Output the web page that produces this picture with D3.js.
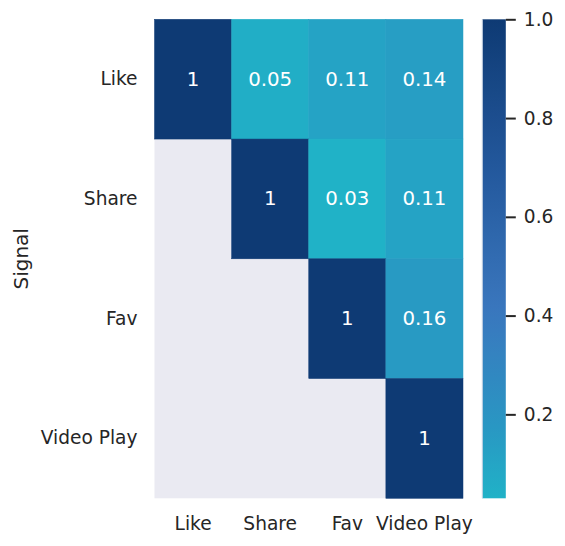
<!DOCTYPE html>
<html>
<head>
<meta charset="utf-8">
<script src="https://cdn.jsdelivr.net/npm/d3@7"></script>
<style>
  body { margin: 0; background: #fff; }
  text { font-family: "DejaVu Sans", sans-serif; }
</style>
</head>
<body>
<div id="wrapper"></div>
<script>
// data
const signals = ["Like", "Share", "Fav", "Video Play"];
// upper triangle of the correlation matrix, null = masked
const likeRow = [1, 0.05, 0.11, 0.14];
const shareRow = [null, 1, 0.03, 0.11];
const favRow = [null, null, 1, 0.16];
const videoRow = [null, null, null, 1];
const colorbarTicks = [0.2, 0.4, 0.6, 0.8, 1.0];

const rows = [likeRow, shareRow, favRow, videoRow];

async function drawHeatmap() {
  //1. dimensions
  let dimensions = {
    width: 565,
    height: 546,
    margin: { top: 19.3, left: 154.5 },
    boundedWidth: 308.5,
    boundedHeight: 479,
  };

  const cells = [];
  rows.forEach((r, i) => r.forEach((v, j) => cells.push({ row: signals[i], col: signals[j], value: v })));

  const vmin = d3.min(cells, (d) => d.value);
  const vmax = d3.max(cells, (d) => d.value);

  //2. canvas
  const wrapper = d3.select("#wrapper")
    .append("svg")
    .attr("width", dimensions.width)
    .attr("height", dimensions.height);

  const bounds = wrapper.append("g")
    .attr("transform", `translate(${dimensions.margin.left},${dimensions.margin.top})`);

  //3. scales
  const xScale = d3.scaleBand().domain(signals).range([0, dimensions.boundedWidth]);
  const yScale = d3.scaleBand().domain(signals).range([0, dimensions.boundedHeight]);

  const colorScale = d3.scaleLinear()
    .domain([vmin, 0.2, 0.41, 0.7, vmax])
    .range(["#20b2c7", "#2b93c2", "#3a77be", "#23589c", "#0e3a74"])
    .interpolate(d3.interpolateRgb)
    .clamp(true);

  // masked background
  bounds.append("rect")
    .attr("width", dimensions.boundedWidth)
    .attr("height", dimensions.boundedHeight)
    .attr("fill", "#eaeaf2");

  //4. cells
  const shown = cells.filter((d) => d.value !== null);
  bounds.selectAll("rect.cell")
    .data(shown)
    .enter()
    .append("rect")
    .attr("class", "cell")
    .attr("x", (d) => xScale(d.col))
    .attr("y", (d) => yScale(d.row))
    .attr("width", xScale.bandwidth())
    .attr("height", yScale.bandwidth())
    .attr("fill", (d) => colorScale(d.value))
    .attr("stroke", (d) => colorScale(d.value))
    .attr("stroke-width", 0.5);

  bounds.selectAll("text.annot")
    .data(shown)
    .enter()
    .append("text")
    .attr("class", "annot")
    .attr("x", (d) => xScale(d.col) + xScale.bandwidth() / 2)
    .attr("y", (d) => yScale(d.row) + yScale.bandwidth() / 2)
    .attr("text-anchor", "middle")
    .attr("dominant-baseline", "central")
    .attr("fill", "white")
    .style("font-size", "19.8px")
    .text((d) => d3.format("")(+d.value.toFixed(2)));

  //5. axes
  const xAxis = bounds.append("g")
    .attr("transform", `translate(0,${dimensions.boundedHeight})`)
    .call(d3.axisBottom(xScale).tickSize(0).tickPadding(18));
  const yAxis = bounds.append("g")
    .call(d3.axisLeft(yScale).tickSize(0).tickPadding(17));
  [xAxis, yAxis].forEach((a) => {
    a.select(".domain").remove();
    a.selectAll("text")
      .style("font-size", "18.6px")
      .style("font-family", "DejaVu Sans")
      .attr("fill", "#262626");
  });

  wrapper.append("text")
    .attr("transform", `translate(28,${dimensions.margin.top + dimensions.boundedHeight / 2}) rotate(-90)`)
    .attr("text-anchor", "middle")
    .attr("fill", "#262626")
    .style("font-size", "20px")
    .text("Signal");

  //6. colorbar
  const cbX = 482.3, cbW = 23.5;
  const cbScale = d3.scaleLinear()
    .domain([vmin, vmax])
    .range([dimensions.margin.top + dimensions.boundedHeight, dimensions.margin.top]);

  const defs = wrapper.append("defs");
  const grad = defs.append("linearGradient")
    .attr("id", "cbgrad")
    .attr("x1", 0).attr("y1", 1).attr("x2", 0).attr("y2", 0);
  d3.range(0, 1.0001, 0.05).forEach((t) => {
    grad.append("stop")
      .attr("offset", t)
      .attr("stop-color", colorScale(vmin + t * (vmax - vmin)));
  });

  wrapper.append("rect")
    .attr("x", cbX)
    .attr("y", cbScale(vmax))
    .attr("width", cbW)
    .attr("height", cbScale(vmin) - cbScale(vmax))
    .attr("fill", "url(#cbgrad)");
  wrapper.append("line")
    .attr("x1", cbX).attr("x2", cbX)
    .attr("y1", cbScale(vmax)).attr("y2", cbScale(vmin))
    .attr("stroke", "#c8d4e4")
    .attr("stroke-width", 1);

  const cbAxis = wrapper.append("g")
    .attr("transform", `translate(${cbX + cbW},0)`)
    .call(d3.axisRight(cbScale).tickValues(colorbarTicks).tickFormat(d3.format(".1f")).tickSize(10).tickPadding(8));
  cbAxis.select(".domain").remove();
  cbAxis.selectAll("line").attr("stroke", "#262626").attr("stroke-width", 2);
  cbAxis.selectAll("text")
    .style("font-size", "18.6px")
    .style("font-family", "DejaVu Sans")
    .attr("fill", "#262626");
}

drawHeatmap();
</script>
</body>
</html>
